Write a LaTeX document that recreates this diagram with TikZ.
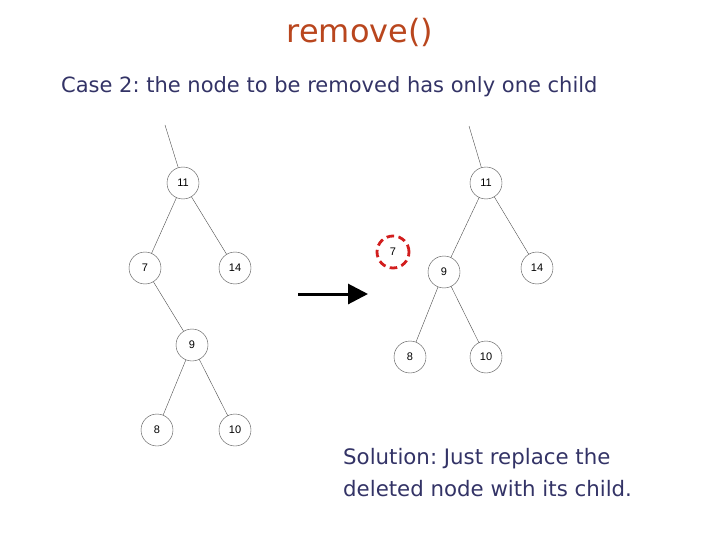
\documentclass[tikz,border=0pt]{standalone}
\usepackage{fontspec}
\setmainfont{DejaVu Sans}
\newfontfamily\labfont{Liberation Sans}
\usetikzlibrary{arrows.meta}
\definecolor{titlec}{RGB}{185,70,30}
\definecolor{textc}{RGB}{51,51,102}
\definecolor{remc}{RGB}{210,30,30}
\tikzset{
  tn/.style={circle,draw=black!70,line width=0.4pt,minimum size=32pt,inner sep=0pt,font=\labfont\fontsize{11}{13}\selectfont},
  rn/.style={tn,draw=remc,line width=2.8pt,dash pattern=on 7.5pt off 4.5pt,minimum size=32pt},
  ed/.style={draw=black!70,line width=0.4pt}
}
\begin{document}
\frenchspacing
\begin{tikzpicture}[x=1pt,y=-1pt]
\useasboundingbox (0,0) rectangle (720,540);
\node[text=titlec,font=\fontsize{32}{36}\selectfont] (title) at (360,32) {remove()};
\node[text=textc,anchor=west,font=\fontsize{21}{24}\selectfont,inner sep=0pt] (case) at (61,87) {Case 2: the node to be removed has only one child};
\node[text=textc,anchor=north west,align=left,font=\fontsize{21.3}{32}\selectfont,inner sep=0pt] (sol) at (343,448) {Solution: Just replace the\\deleted node with its child.};
% left tree
\node[tn] (a11) at (183,183) {11};
\node[tn] (a7) at (145,268) {7};
\node[tn] (a14) at (235,268) {14};
\node[tn] (a9) at (192,345) {9};
\node[tn] (a8) at (157,430) {8};
\node[tn] (a10) at (235,430) {10};
\coordinate (atop) at (165,125);
\draw[ed] (atop) -- (a11);
\draw[ed] (a11) -- (a7);
\draw[ed] (a11) -- (a14);
\draw[ed] (a7) -- (a9);
\draw[ed] (a9) -- (a8);
\draw[ed] (a9) -- (a10);
% arrow
\coordinate (ar1) at (298,294);
\coordinate (ar2) at (368,294);
\draw[line width=3pt,-{Triangle[length=20pt,width=20pt]}] (ar1) -- (ar2);
% right tree
\node[rn] (r7) at (393,252) {7};
\node[tn] (b11) at (486,183) {11};
\node[tn] (b9) at (444,272) {9};
\node[tn] (b14) at (537,268) {14};
\node[tn] (b8) at (410,357) {8};
\node[tn] (b10) at (486,357) {10};
\coordinate (btop) at (469,126);
\draw[ed] (btop) -- (b11);
\draw[ed] (b11) -- (b9);
\draw[ed] (b11) -- (b14);
\draw[ed] (b9) -- (b8);
\draw[ed] (b9) -- (b10);
\end{tikzpicture}
\end{document}
